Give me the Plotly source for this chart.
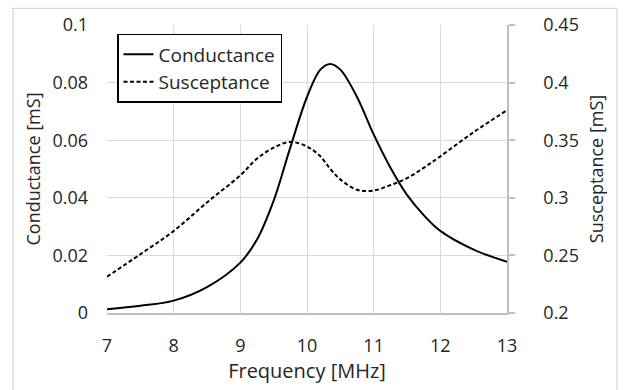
import plotly.graph_objects as go

freq = [7.0, 7.5, 8.0, 8.5, 9.0, 9.25, 9.5, 9.75, 10.0, 10.2, 10.35, 10.5,
        10.75, 11.0, 11.25, 11.5, 11.75, 12.0, 12.5, 13.0]
conductance = [0.0013, 0.0025, 0.0043, 0.0090, 0.0175, 0.0255, 0.0390, 0.0575,
               0.0750, 0.0845, 0.0865, 0.0845, 0.0750, 0.0620, 0.0505, 0.0410,
               0.0340, 0.0285, 0.0220, 0.0178]
susceptance = [0.2315, 0.2510, 0.2712, 0.2960, 0.3195, 0.3340, 0.3435, 0.3485,
               0.3445, 0.3360, 0.3250, 0.3160, 0.3070, 0.3063, 0.3110, 0.3170,
               0.3260, 0.3360, 0.3570, 0.3760]

FONT = "Open Sans"
TXT = "#262626"
GRID = "#d9d9d9"
FS = 18

fig = go.Figure()
fig.add_trace(go.Scatter(x=freq, y=conductance, name="Conductance", mode="lines",
                         line=dict(color="black", width=2, shape="spline", smoothing=1)))
fig.add_trace(go.Scatter(x=freq, y=susceptance, name="Susceptance", mode="lines", yaxis="y2",
                         line=dict(color="black", width=2, dash="4px,2.5px", shape="spline", smoothing=1)))

L, R, T, B = 107, 116, 23, 73
W, H = 623, 390
pw, ph = W - L - R, H - T - B

fig.update_layout(
    width=W, height=H,
    margin=dict(l=L, r=R, t=T, b=B),
    paper_bgcolor="white", plot_bgcolor="white",
    font=dict(family=FONT, size=FS, color=TXT),
    showlegend=True,
    legend=dict(x=(117 - L) / pw, y=(317 - 32) / ph, xanchor="left", yanchor="top",
                bordercolor="black", borderwidth=1.5, bgcolor="white",
                font=dict(family=FONT, size=FS + 1, color=TXT), tracegroupgap=0),
    xaxis=dict(range=[7, 13], dtick=1, tick0=7, showgrid=True, gridcolor=GRID, gridwidth=1.3,
               zeroline=False, showline=True, linecolor="#bfbfbf", linewidth=1.5,
               ticks="", ticklabelstandoff=16,
               title=dict(text="Frequency [MHz]", standoff=7, font=dict(size=20))),
    yaxis=dict(range=[0, 0.1], dtick=0.02, tick0=0, showgrid=True, gridcolor=GRID, gridwidth=1.3,
               zeroline=False, showline=False, ticks="", ticklabelstandoff=18,
               title=dict(text="Conductance [mS]", standoff=7, font=dict(size=FS))),
    yaxis2=dict(range=[0.2, 0.45], dtick=0.05, tick0=0.2, overlaying="y", side="right",
                showgrid=False, zeroline=False, showline=True, linecolor="#bfbfbf", linewidth=1.5,
                ticks="outside", ticklen=6, tickcolor="#bfbfbf", tickwidth=1.5,
                ticklabelstandoff=25,
                title=dict(text="Susceptance [mS]", standoff=12, font=dict(size=FS))),
)

fig.add_shape(type="rect", xref="paper", yref="paper",
              x0=(13 - L) / pw, x1=(617 - L) / pw,
              y0=(317 - 400) / ph, y1=(317 - 6) / ph,
              line=dict(color="#d9d9d9", width=1.3), fillcolor="rgba(0,0,0,0)", layer="below")

fig.write_html("out.html")
